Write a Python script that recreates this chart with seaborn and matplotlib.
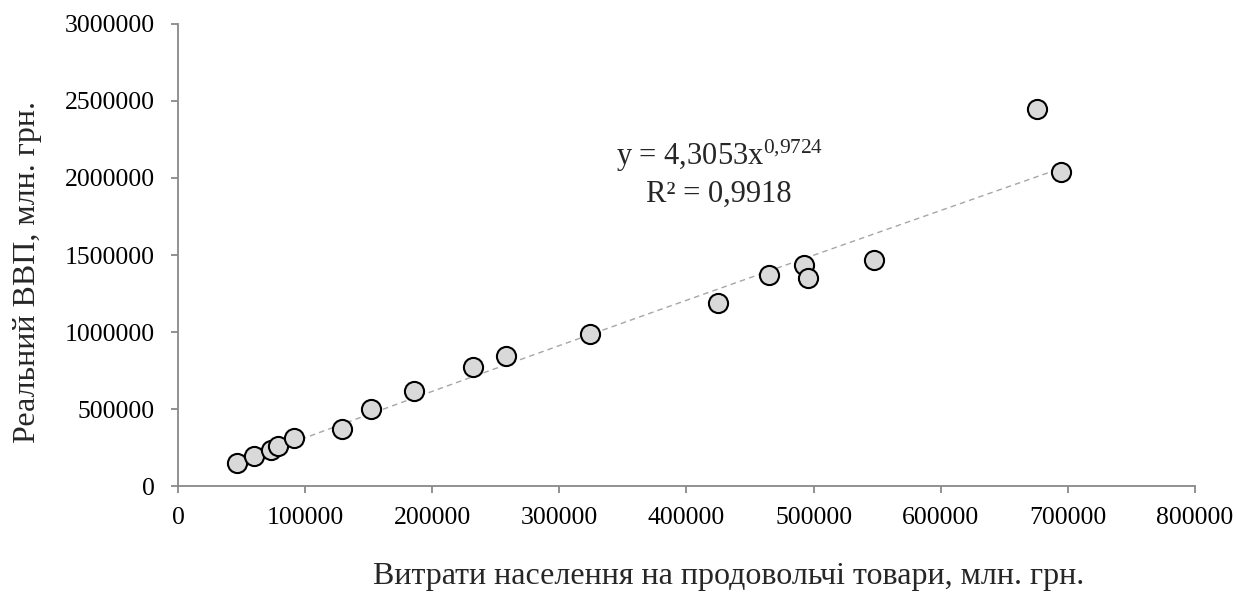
import numpy as np
import pandas as pd
import matplotlib
matplotlib.use("Agg")
import matplotlib.pyplot as plt
import seaborn as sns

# Data (млн. грн.)
food_spending = [46400, 59800, 73200, 78700, 91300, 129000, 151800, 185600,
                 232100, 258000, 324100, 424800, 464900, 492400, 495600,
                 547500, 675700, 694600]
real_gdp = [149400, 194800, 233800, 259700, 311700, 370100, 500000, 616900,
            772700, 844200, 987000, 1188300, 1370100, 1435000, 1350600,
            1467500, 2448100, 2039000]

# Power trendline coefficients as shown on the chart
trend_a = 4.3053
trend_b = 0.9724

x_ticks = [0, 100000, 200000, 300000, 400000, 500000, 600000, 700000, 800000]
y_ticks = [0, 500000, 1000000, 1500000, 2000000, 2500000, 3000000]

df = pd.DataFrame({"x": food_spending, "y": real_gdp})

sns.set_theme(style="white")
plt.rcParams["font.family"] = ["Liberation Serif", "DejaVu Serif"]
plt.rcParams["mathtext.fontset"] = "custom"
plt.rcParams["mathtext.rm"] = "Liberation Serif"
plt.rcParams["mathtext.it"] = "Liberation Serif:italic"

fig, ax = plt.subplots(figsize=(12.37, 5.92), dpi=100)
fig.subplots_adjust(left=0.1439, right=0.966, bottom=0.179, top=0.9595)

# trendline over the data range
xs = np.linspace(min(food_spending), max(food_spending), 200)
ax.plot(xs, trend_a * xs ** trend_b, color="#A6A6A6", linestyle=(0, (4, 3)),
        linewidth=1.0, zorder=1)

sns.scatterplot(data=df, x="x", y="y", ax=ax, s=190, color="#D9D9D9",
                edgecolor="black", linewidth=1.5, zorder=3)

ax.set_xlim(0, 800000)
ax.set_ylim(0, 3000000)
ax.set_xticks(x_ticks)
ax.set_yticks(y_ticks)
ax.set_xticklabels([str(v) for v in x_ticks])
ax.set_yticklabels([str(v) for v in y_ticks])

for side in ["top", "right"]:
    ax.spines[side].set_visible(False)
for side in ["left", "bottom"]:
    ax.spines[side].set_color("#898989")
    ax.spines[side].set_linewidth(1.3)

ax.tick_params(axis="both", which="major", direction="out", length=5,
               width=1.3, color="#898989", labelsize=18.5, labelcolor="black",
               bottom=True, left=True)
ax.tick_params(axis="x", pad=10)
ax.tick_params(axis="y", pad=11.5)

ax.set_xlabel("Витрати населення на продовольчі товари, млн. грн.", fontsize=23)
ax.xaxis.label.set_va("baseline")
ax.xaxis.set_label_coords(0.541, -0.2125)

ax.set_ylabel("Реальний ВВП, млн. грн.", fontsize=23)
ax.yaxis.label.set_va("center")
ax.yaxis.set_label_coords(-0.148, 0.463)

ax.text(0.532, 0.6948, r"y = 4,3053x$^{\mathrm{0{,}9724}}$",
        transform=ax.transAxes, ha="center", va="baseline", fontsize=22)
ax.text(0.532, 0.6147, "R² = 0,9918",
        transform=ax.transAxes, ha="center", va="baseline", fontsize=22)

fig.savefig("out.png", dpi=100)
